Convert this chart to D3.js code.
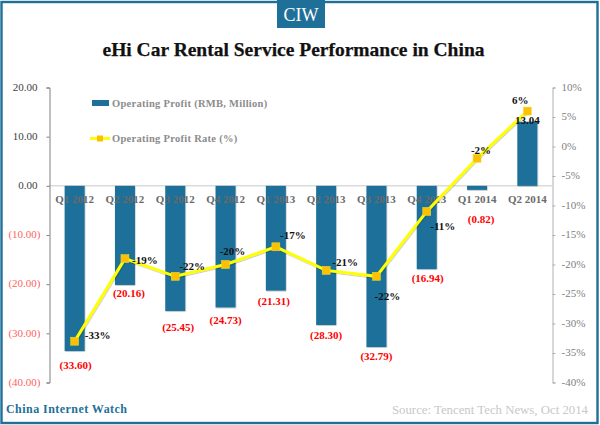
<!DOCTYPE html>
<html>
<head>
<meta charset="utf-8">
<script src="https://cdn.jsdelivr.net/npm/d3@7"></script>
<style>
  html, body { margin: 0; padding: 0; background: #fff; }
  svg { display: block; }
  text { font-family: "Liberation Serif", serif; }
</style>
</head>
<body>
<svg id="chart" width="600" height="425"></svg>
<script>
const quarters = ['Q1 2012', 'Q2 2012', 'Q3 2012', 'Q4 2012', 'Q1 2013', 'Q2 2013', 'Q3 2013', 'Q4 2013', 'Q1 2014', 'Q2 2014'];
const profit = [-33.60, -20.16, -25.45, -24.73, -21.31, -28.30, -32.79, -16.94, -0.82, 13.04];
const rate = [-33, -19, -22, -20, -17, -21, -22, -11, -2, 6];
const profitTicks = [20, 10, 0, -10, -20, -30, -40];
const rateTicks = [10, 5, 0, -5, -10, -15, -20, -25, -30, -35, -40];

// hand placed label nudges, the original labels were dragged around
const rateNudge = [[23, -6], [20, 1], [17, -10], [7, -14], [17, -12], [19, -8], [11, 20], [16, 15], [4, -8], [-7, -11]];
const profitNudge = [[1, 14], [4, 8], [3, 16], [0, 13], [-2, 10], [0, 10], [0, 9], [1, 9], [4, 29], [0, -2]];

const teal = '#1f7099';
const svg = d3.select('#chart');

const y = d3.scaleLinear().domain([-40, 20]).range([382.5, 87.5]);
const yRate = d3.scaleLinear().domain([-40, 10]).range([382.5, 87.5]);
const x = d3.scaleBand().domain(quarters).range([49.5, 552.5]);
const xMid = d => x(d) + x.bandwidth() / 2;

const defs = svg.append('defs');
const shadow = defs.append('filter').attr('id', 'soft')
    .attr('x', '-20%').attr('y', '-20%').attr('width', '140%').attr('height', '140%');
shadow.append('feDropShadow')
    .attr('dx', 0.5).attr('dy', 0.7).attr('stdDeviation', 0.6)
    .attr('flood-color', '#000').attr('flood-opacity', 0.3);

// frame and badge
svg.append('rect')
    .attr('x', 1.5).attr('y', 1.5).attr('width', 596).attr('height', 421)
    .attr('fill', '#fff').attr('stroke', '#bcbcbc').attr('stroke-width', 1);
svg.append('rect')
    .attr('x', 1.5).attr('y', 2).attr('width', 596).attr('height', 421)
    .attr('fill', 'none').attr('stroke', teal).attr('stroke-width', 2.4);
svg.append('rect')
    .attr('x', 277).attr('y', 0).attr('width', 48).attr('height', 28).attr('fill', teal);
svg.append('text')
    .attr('x', 301).attr('y', 20.5).attr('text-anchor', 'middle')
    .attr('fill', '#fff').style('font-size', '18px')
    .text('CIW');

svg.append('text')
    .attr('x', 293.5).attr('y', 56).attr('text-anchor', 'middle')
    .attr('fill', '#111').attr('stroke', '#111').attr('stroke-width', 0.25)
    .style('font-size', '19.5px').style('font-weight', 'bold')
    .text('eHi Car Rental Service Performance in China');

// zero line
svg.append('line')
    .attr('x1', 49).attr('x2', 552).attr('y1', y(0)).attr('y2', y(0))
    .attr('stroke', '#c8c8c8').attr('stroke-width', 1);

// bars
svg.append('g').selectAll('rect')
    .data(quarters)
    .join('rect')
    .attr('x', d => xMid(d) - 10)
    .attr('width', 20)
    .attr('y', (d, i) => y(Math.max(0, profit[i])))
    .attr('height', (d, i) => Math.abs(y(profit[i]) - y(0)))
    .attr('fill', teal)
    .attr('filter', 'url(#soft)');

// category labels run over the bars
svg.append('g').selectAll('text')
    .data(quarters)
    .join('text')
    .attr('x', d => xMid(d))
    .attr('y', 203)
    .attr('text-anchor', 'middle')
    .attr('fill', '#6a6a6a')
    .style('font-size', '11px').style('font-weight', 'bold')
    .text(d => d);

// left axis
const leftAxis = svg.append('g')
    .attr('transform', 'translate(49.5,0)')
    .call(d3.axisLeft(y).tickValues(profitTicks).tickSize(3).tickPadding(6)
        .tickFormat(d => d < 0 ? `(${Math.abs(d).toFixed(2)})` : d.toFixed(2)));
leftAxis.select('.domain').attr('stroke', '#808080');
leftAxis.selectAll('.tick line').attr('stroke', '#808080');
leftAxis.selectAll('.tick text')
    .attr('fill', d => d < 0 ? '#ff5f5f' : '#404040')
    .attr('dx', d => d < 0 ? 0 : -3)
    .attr('dy', '0.25em')
    .style('font-size', '11px').style('font-family', '"Liberation Serif", serif');

// right axis
const rightAxis = svg.append('g')
    .attr('transform', 'translate(552.5,0)')
    .call(d3.axisRight(yRate).tickValues(rateTicks).tickSize(3).tickPadding(6)
        .tickFormat(d => `${d}%`));
rightAxis.select('.domain').attr('stroke', '#b0b0b0');
rightAxis.selectAll('.tick line').attr('stroke', '#b0b0b0');
rightAxis.selectAll('.tick text')
    .attr('fill', '#808080')
    .attr('dy', '0.25em')
    .style('font-size', '11px').style('font-family', '"Liberation Serif", serif');

// rate line and markers
const rateLine = d3.line()
    .x((d, i) => xMid(quarters[i]))
    .y(d => yRate(d));
svg.append('path')
    .datum(rate)
    .attr('d', rateLine)
    .attr('fill', 'none')
    .attr('stroke', '#ffff00')
    .attr('stroke-width', 3)
    .attr('filter', 'url(#soft)');
svg.append('g').selectAll('rect')
    .data(rate)
    .join('rect')
    .attr('x', (d, i) => xMid(quarters[i]) - 4)
    .attr('y', d => yRate(d) - 4)
    .attr('width', 8).attr('height', 8)
    .attr('fill', '#ffc000')
    .attr('stroke', '#e6e040').attr('stroke-width', 0.5);

// value labels
svg.append('g').selectAll('text')
    .data(profit)
    .join('text')
    .attr('x', (d, i) => xMid(quarters[i]) + profitNudge[i][0])
    .attr('y', (d, i) => y(d) + profitNudge[i][1] + 4)
    .attr('text-anchor', 'middle')
    .attr('fill', d => d < 0 ? '#ff0000' : '#111')
    .style('font-size', '11px').style('font-weight', 'bold')
    .text(d => d < 0 ? `(${Math.abs(d).toFixed(2)})` : d.toFixed(2));

svg.append('g').selectAll('text')
    .data(rate)
    .join('text')
    .attr('x', (d, i) => xMid(quarters[i]) + rateNudge[i][0])
    .attr('y', (d, i) => yRate(d) + rateNudge[i][1] + 4)
    .attr('text-anchor', 'middle')
    .attr('fill', '#111')
    .style('font-size', '11px').style('font-weight', 'bold')
    .text(d => `${d}%`);

// legend
const legend = svg.append('g');
legend.append('rect')
    .attr('x', 92).attr('y', 100).attr('width', 17).attr('height', 6).attr('fill', teal);
legend.append('text')
    .attr('x', 112).attr('y', 107)
    .attr('fill', '#8c8c8c')
    .style('font-size', '10.5px').style('font-weight', 'bold').style('letter-spacing', '0.28px')
    .text('Operating Profit (RMB, Million)');
legend.append('line')
    .attr('x1', 90).attr('x2', 110).attr('y1', 138.5).attr('y2', 138.5)
    .attr('stroke', '#ffff00').attr('stroke-width', 3);
legend.append('rect')
    .attr('x', 97).attr('y', 135.5).attr('width', 6).attr('height', 6).attr('fill', '#ffc000');
legend.append('text')
    .attr('x', 112).attr('y', 142)
    .attr('fill', '#8c8c8c')
    .style('font-size', '10.5px').style('font-weight', 'bold').style('letter-spacing', '0.28px')
    .text('Operating Profit Rate (%)');

// footer
svg.append('text')
    .attr('x', 6).attr('y', 413)
    .attr('fill', teal)
    .style('font-size', '12px').style('font-weight', 'bold').style('letter-spacing', '0.45px')
    .text('China Internet Watch');
svg.append('text')
    .attr('x', 588).attr('y', 414).attr('text-anchor', 'end')
    .attr('fill', '#c8c8c8')
    .style('font-size', '12.8px')
    .text('Source: Tencent Tech News, Oct 2014');
</script>
</body>
</html>
